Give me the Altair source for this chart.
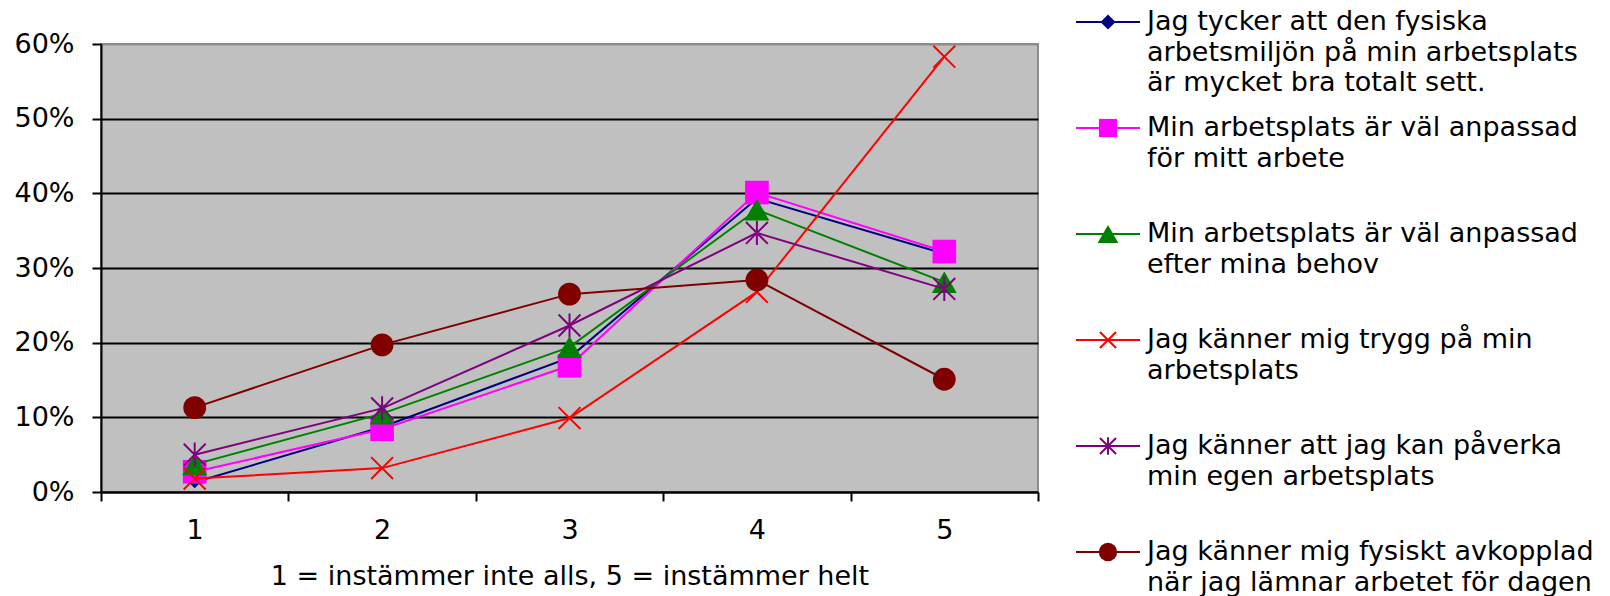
import altair as alt
import pandas as pd

# Response scale (1 = instämmer inte alls, 5 = instämmer helt)
scores = [1, 2, 3, 4, 5]

# Share of respondents per answer, one list per statement
fysisk_miljo = [0.013, 0.087, 0.180, 0.393, 0.319]
anpassad_arbete = [0.027, 0.084, 0.169, 0.401, 0.322]
anpassad_behov = [0.037, 0.105, 0.194, 0.378, 0.281]
trygg = [0.018, 0.032, 0.099, 0.268, 0.583]
paverka = [0.050, 0.112, 0.223, 0.347, 0.272]
avkopplad = [0.113, 0.197, 0.265, 0.284, 0.151]

series_values = [fysisk_miljo, anpassad_arbete, anpassad_behov, trygg, paverka, avkopplad]

# Legend text, already broken into lines
legend_lines = [
    ["Jag tycker att den fysiska", "arbetsmiljön på min arbetsplats", "är mycket bra totalt sett."],
    ["Min arbetsplats är väl anpassad", "för mitt arbete"],
    ["Min arbetsplats är väl anpassad", "efter mina behov"],
    ["Jag känner mig trygg på min", "arbetsplats"],
    ["Jag känner att jag kan påverka", "min egen arbetsplats"],
    ["Jag känner mig fysiskt avkopplad", "när jag lämnar arbetet för dagen"],
]
series_names = [" ".join(lines) for lines in legend_lines]

# Marker styling per statement
X_PATH = "M-1,-1L1,1M-1,1L1,-1"
STAR_PATH = "M-1,-1L1,1M-1,1L1,-1M0,-1.1L0,1.1"
colors = ["#000080", "#FF00FF", "#008000", "#FF0000", "#800080", "#800000"]
shapes = ["diamond", "square", "triangle-up", X_PATH, STAR_PATH, "circle"]
filled = [True, True, True, False, False, True]
sizes = [140, 560, 620, 480, 480, 520]
legend_sizes = [230, 330, 430, 260, 260, 340]

FONT = "DejaVu Sans"
FS = 27

x_enc = alt.X(
    "score:O",
    scale=alt.Scale(type="band", paddingInner=0, paddingOuter=0),
    axis=alt.Axis(
        title="1 = instämmer inte alls, 5 = instämmer helt",
        labelAngle=0,
        labelPadding=16,
        tickBand="extent",
        grid=False,
        titleBaseline="alphabetic",
        titleY=92,
    ),
)
y_enc = alt.Y(
    "share:Q",
    scale=alt.Scale(domain=[0, 0.6], nice=False, zero=True),
    axis=alt.Axis(
        title=None,
        values=[0, 0.1, 0.2, 0.3, 0.4, 0.5, 0.6],
        format=".0%",
        labelPadding=18,
        grid=True,
        gridWidth=2,
        gridColor={"condition": {"test": "datum.value >= 0.595", "value": "#8c8c8c"}, "value": "#000000"},
        labelOverlap=False,
    ),
)

series_layers = []
for name, vals, c, shp, fl, sz in zip(series_names, series_values, colors, shapes, filled, sizes):
    df = pd.DataFrame({"score": scores, "share": vals, "serie": name})
    base = alt.Chart(df)
    series_layers.append(base.mark_line(color=c, strokeWidth=2).encode(x=x_enc, y=y_enc))
    if fl:
        pt = base.mark_point(shape=shp, filled=True, size=sz, color=c, opacity=1, strokeWidth=1)
    else:
        pt = base.mark_point(shape=shp, filled=False, size=sz, color=c, opacity=1, strokeWidth=2)
    series_layers.append(pt.encode(x=x_enc, y=y_enc))

main = alt.layer(*series_layers)

# Legend: one row per statement, text lines stacked below the first
ROW_GAP = 106.0
LINE_GAP = 30.5
legend_y = alt.Scale(domain=[0, 5], range=[-22, -22 + 5 * ROW_GAP], nice=False, zero=False)

leg_rows = pd.DataFrame({"row": list(range(len(series_names))), "serie": series_names})
text_rows = []
for i, lines in enumerate(legend_lines):
    for j, t in enumerate(lines):
        text_rows.append({"row": i + j * LINE_GAP / ROW_GAP, "txt": t})
leg_text = pd.DataFrame(text_rows)

legend_layers = []
for i, (c, shp, fl, sz) in enumerate(zip(colors, shapes, filled, legend_sizes)):
    d = leg_rows[leg_rows["row"] == i]
    b = alt.Chart(d)
    legend_layers.append(
        b.mark_rule(color=c, strokeWidth=2).encode(
            x=alt.value(975), x2=alt.value(1039), y=alt.Y("row:Q", scale=legend_y, axis=None)
        )
    )
    if fl:
        m = b.mark_point(shape=shp, filled=True, size=sz, color=c, opacity=1, strokeWidth=1)
    else:
        m = b.mark_point(shape=shp, filled=False, size=sz, color=c, opacity=1, strokeWidth=2)
    legend_layers.append(m.encode(x=alt.value(1007), y=alt.Y("row:Q", scale=legend_y, axis=None)))

legend_layers.append(
    alt.Chart(leg_text)
    .mark_text(align="left", baseline="middle", font=FONT, fontSize=FS, color="#000000")
    .encode(x=alt.value(1046), y=alt.Y("row:Q", scale=legend_y, axis=None), text="txt:N")
)
legend = alt.layer(*legend_layers)

chart = (
    alt.layer(main, legend)
    .resolve_scale(y="independent")
    .properties(
        width=937,
        height=448,
        padding={"left": 101, "top": 44, "right": 572, "bottom": 104},
        autosize=alt.AutoSizeParams(type="none"),
        background="#ffffff",
    )
    .configure_view(fill="#C0C0C0", stroke="#8c8c8c", strokeWidth=2)
    .configure_axis(
        labelFont=FONT,
        labelFontSize=FS,
        labelColor="#000000",
        titleFont=FONT,
        titleFontSize=FS,
        titleFontWeight="normal",
        titleColor="#000000",
        domainColor="#000000",
        domainWidth=2,
        tickColor="#000000",
        tickWidth=2,
        tickSize=9,
    )
)

chart.save("out.html", embed_options={"renderer": "svg", "actions": False})
